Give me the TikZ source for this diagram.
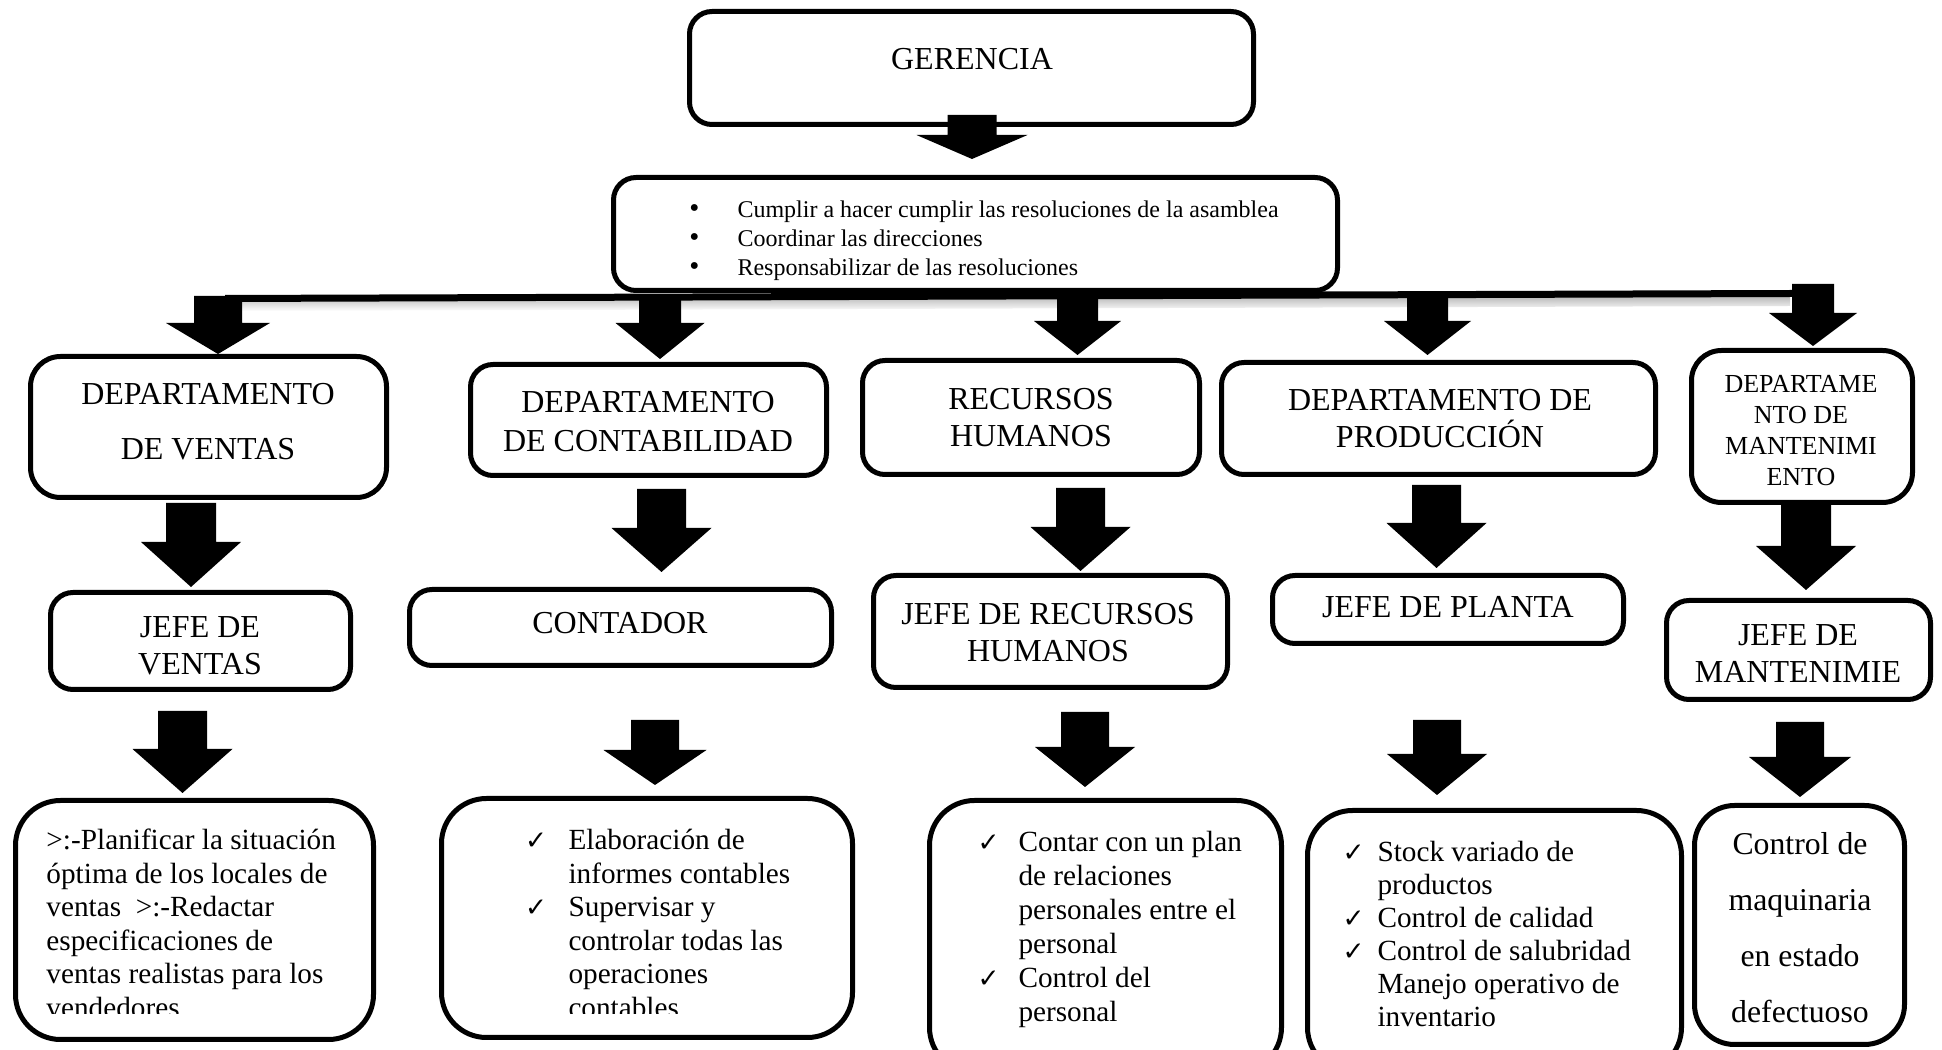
\documentclass[tikz,border=0pt]{standalone}
\usepackage{fontspec}
\setmainfont{Liberation Serif}
\newfontfamily\ckfont{DejaVu Sans}
\usetikzlibrary{fit}
\newcommand\ck[1]{\leavevmode\llap{{\ckfont\fontsize{10.5}{10.5}\selectfont ✓}\hspace{#1}}}
\newcommand\bul{\leavevmode\llap{\raisebox{0.2pt}{\fontsize{11.5}{11.5}\selectfont •}\hspace{15.2pt}}}
\newcommand\ctext[3]{\parbox[t]{180pt}{\fontsize{#1}{#2}\selectfont\centering #3\par}}
\newcommand\ltext[4][140pt]{\parbox[t]{#1}{\fontsize{#2}{#3}\selectfont\raggedright #4\par}}
\newcommand\blockarrow[6]{%
  \fill (#1-#5,#2) -- (#1+#5,#2) -- (#1+#5,#3) -- (#1+#6,#3) -- (#1,#4) -- (#1-#6,#3) -- (#1-#5,#3) -- cycle;}
\tikzset{
  box/.style={draw, line width=2pt, fill=white, rounded corners=9pt, inner sep=-1pt},
  bigbox/.style={box, rounded corners=18pt},
  txt/.style={inner sep=0pt, anchor=base},
  ltxt/.style={inner sep=0pt, anchor=base west},
}
\begin{document}
\begin{tikzpicture}[x=0.4pt,y=-0.4pt]
\useasboundingbox (0,0) rectangle (1942,1050);
\fill[white] (0,0) rectangle (1942,1050);

% ---------- boxes ----------
\node[box, fit={(687,9)(1256,127)}] (ger) {};
\node[box, fit={(611,175)(1340,293)}] (fun) {};

\node[box, rounded corners=12pt, fit={(28,354)(389,500)}] (v1) {};
\node[box, fit={(468,362)(829,478)}] (v2) {};
\node[box, fit={(860,358)(1202,477)}] (v3) {};
\node[box, fit={(1219,360)(1658,477)}] (v4) {};
\node[box, rounded corners=12pt, fit={(1689,348)(1915,505)}] (v5) {};

\node[box, fit={(48,590)(353,692)}] (j1) {};
\node[box, fit={(407,587)(834,668)}] (j2) {};
\node[box, fit={(871,573)(1230,690)}] (j3) {};
\node[box, fit={(1270,573)(1626,646)}] (j4) {};
\node[box, fit={(1664,598)(1933,702)}] (j5) {};

\node[bigbox, fit={(13,798)(376,1042)}] (k1) {};
\node[bigbox, fit={(439,796)(855,1040)}] (k2) {};
\node[bigbox, fit={(927,798)(1284,1075)}] (k3) {};
\node[bigbox, fit={(1305,808)(1684,1075)}] (k4) {};
\node[bigbox, rounded corners=16pt, fit={(1692,803)(1907,1047)}] (k5) {};

% ---------- bar with shadow ----------
\shade[top color=black!30, bottom color=white] (240,300) -- (1790,295) -- (1790,306) -- (240,311) -- cycle;
\fill (225,295) -- (1792,290) -- (1792,297) -- (225,302) -- cycle;

% ---------- block arrows: cx, top, headY, tip, shaft hw, head hw ----------
\blockarrow{972}{115}{135}{159}{24.5}{55.5}
\blockarrow{218}{296}{323}{354}{24}{52}
\blockarrow{660}{296}{323}{359}{21}{44.5}
\blockarrow{1077.5}{294}{321}{355}{20.5}{43.5}
\blockarrow{1427.5}{292}{321}{355}{20.5}{43.5}
\blockarrow{1813}{284}{313}{346}{21}{44}

\blockarrow{191}{503}{542}{587}{25}{50}
\blockarrow{661.5}{489}{528}{572}{24.5}{50}
\blockarrow{1080.5}{488}{527}{571}{24.5}{50}
\blockarrow{1436.5}{485}{523}{568}{24.5}{50}
\blockarrow{1806}{505}{546}{590}{25}{50}

\blockarrow{182.5}{711}{749}{793}{24.5}{50}
\blockarrow{655}{720}{750}{785}{24}{51.5}
\blockarrow{1085}{712}{747}{787}{24}{50}
\blockarrow{1437}{720}{754}{795}{24}{50}
\blockarrow{1800}{722}{757}{797}{24}{51}

% ---------- texts ----------
\node[txt] (tger) at (972,70) {\fontsize{12.8}{15}\selectfont GERENCIA};
\node[ltxt] (tfun) at (737,218) {\ltext[250pt]{9.6}{11.6}{\bul Cumplir a hacer cumplir las resoluciones de la asamblea\\
\bul Coordinar las direcciones\\
\bul Responsabilizar de las resoluciones}};

\node[txt] (tv1) at (208,405) {\ctext{12.8}{22}{DEPARTAMENTO\\DE VENTAS}};
\node[txt] (tv2) at (648,413) {\ctext{12.8}{15.6}{DEPARTAMENTO\\DE CONTABILIDAD}};
\node[txt] (tv3) at (1031,410) {\ctext{12.8}{14.8}{RECURSOS\\HUMANOS}};
\node[txt] (tv4) at (1440,411) {\ctext{12.8}{14.8}{DEPARTAMENTO DE\\PRODUCCIÓN}};
\node[txt] (tv5) at (1801,393) {\ctext{10.4}{12.3}{DEPARTAME\\NTO DE\\MANTENIMI\\ENTO}};

\node[txt] (tj1) at (200,638) {\ctext{12.8}{14.8}{JEFE DE\\VENTAS}};
\node[txt] (tj2) at (620,634) {\ctext{12.8}{14.8}{CONTADOR}};
\node[txt] (tj3) at (1048,625) {\ctext{12.8}{14.8}{JEFE DE RECURSOS\\HUMANOS}};
\node[txt] (tj4) at (1448,618) {\ctext{12.8}{14.8}{JEFE DE PLANTA}};
\node[txt] (tj5) at (1798,646) {\ctext{12.8}{14.8}{JEFE DE\\MANTENIMIE}};

\begin{scope}
\clip (0,0) rectangle (1942,1014);
\node[ltxt] (tk1) at (46,850) {\ltext{11.7}{13.4}{>:-Planificar la situación\\
óptima de los locales de\\
ventas\ \ >:-Redactar\\
especificaciones de\\
ventas realistas para los\\
vendedores}};
\node[ltxt] (tk2) at (568,850) {\ltext{11.7}{13.4}{\ck{8.6pt}Elaboración de\\
informes contables\\
\ck{8.6pt}Supervisar y\\
controlar todas las\\
operaciones\\
contables}};
\end{scope}

\node[ltxt] (tk3) at (1018,852) {\ltext{11.7}{13.6}{\ck{7.6pt}Contar con un plan\\
de relaciones\\
personales entre el\\
personal\\
\ck{7.6pt}Control del\\
personal}};
\node[ltxt] (tk4) at (1377,862) {\ltext{11.7}{13.2}{\ck{5.2pt}Stock variado de\\
productos\\
\ck{5.2pt}Control de calidad\\
\ck{5.2pt}Control de salubridad\\
Manejo operativo de\\
inventario}};
\node[txt] (tk5) at (1800,855) {\ctext{12.7}{22.3}{Control de\\maquinaria\\en estado\\defectuoso}};
\end{tikzpicture}
\end{document}
